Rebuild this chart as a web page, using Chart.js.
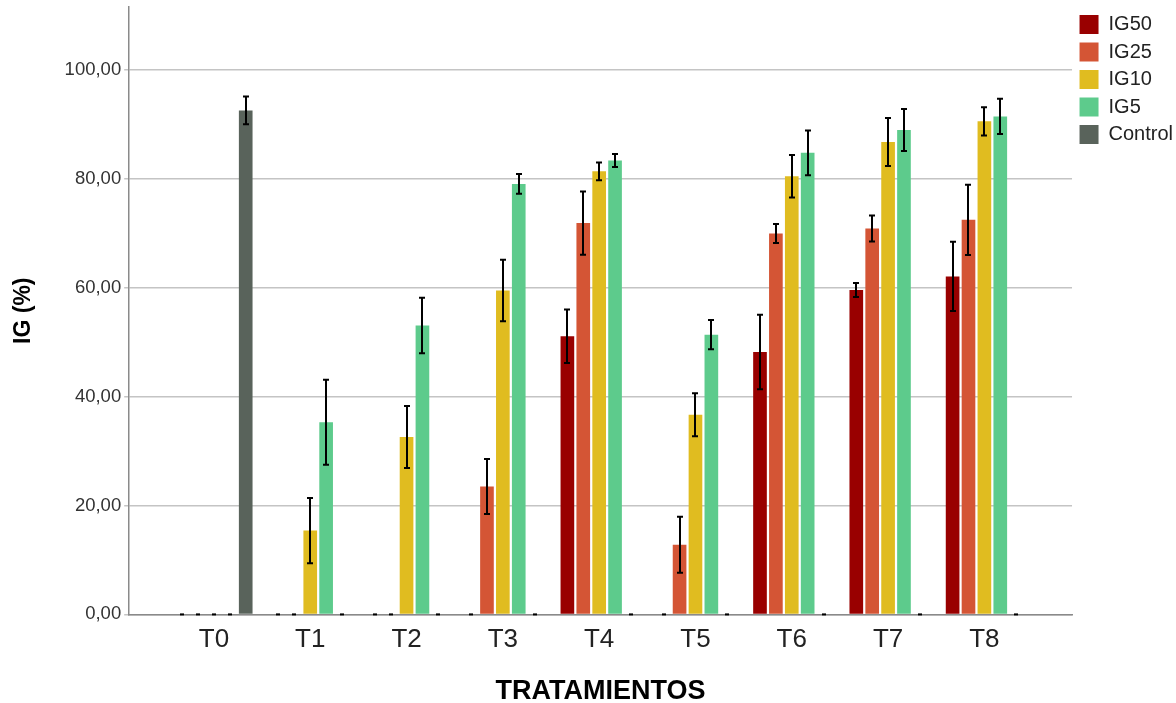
<!DOCTYPE html>
<html>
<head>
<meta charset="utf-8">
<title>IG por tratamiento</title>
<script src="https://cdn.jsdelivr.net/npm/chart.js@4.4.1/dist/chart.umd.min.js"></script>
<style>
	html, body { margin: 0; padding: 0; background: #fff; }
	#wrap { position: relative; width: 1176px; height: 703px; }
</style>
</head>
<body>
<div id="wrap"><canvas id="myChart"></canvas></div>
<script>
const categories = ['T0', 'T1', 'T2', 'T3', 'T4', 'T5', 'T6', 'T7', 'T8'];

// mean IG (%) per treatment
const ig50 = [0, 0, 0, 0, 51.1, 0, 48.2, 59.6, 62.1];
const ig25 = [0, 0, 0, 23.5, 71.9, 12.8, 70.0, 70.9, 72.5];
const ig10 = [0, 15.4, 32.6, 59.5, 81.4, 36.7, 80.5, 86.8, 90.6];
const ig5 = [0, 35.3, 53.1, 79.1, 83.4, 51.4, 84.8, 89.0, 91.5];
const control = [92.6, 0, 0, 0, 0, 0, 0, 0, 0];

// error (+/-) for each bar
const ig50Err = [0, 0, 0, 0, 4.9, 0, 6.85, 1.3, 6.35];
const ig25Err = [0, 0, 0, 5.05, 5.8, 5.15, 1.75, 2.4, 6.45];
const ig10Err = [0, 6.0, 5.7, 5.65, 1.65, 3.95, 3.9, 4.4, 2.6];
const ig5Err = [0, 7.8, 5.1, 1.8, 1.2, 2.7, 4.1, 3.85, 3.25];
const controlErr = [2.55, 0, 0, 0, 0, 0, 0, 0, 0];

const yTicks = [0, 20, 40, 60, 80, 100];

const FONT = "'Liberation Sans', Arial, sans-serif";

function toPoints(values) {
	return values.map((v, i) => ({ x: i, y: v }));
}

function makeSet(label, values, errors, color) {
	return {
		label: label,
		data: toPoints(values),
		errors: errors,
		backgroundColor: color,
		borderWidth: 0
	};
}

// draws the black error bars (and the little dash at 0 for empty slots)
const errorBars = {
	id: 'errorBars',
	afterDatasetsDraw(chart) {
		const ctx = chart.ctx;
		const yScale = chart.scales.y;
		ctx.save();
		ctx.strokeStyle = '#000';
		ctx.lineWidth = 2;
		chart.data.datasets.forEach((ds, i) => {
			const meta = chart.getDatasetMeta(i);
			if (meta.hidden) return;
			meta.data.forEach((bar, j) => {
				const v = ds.data[j].y;
				const e = ds.errors[j];
				const x = Math.round(bar.x);
				const top = yScale.getPixelForValue(v + e);
				const bot = yScale.getPixelForValue(Math.max(v - e, 0));
				ctx.beginPath();
				if (e > 0) {
					ctx.moveTo(x, top);
					ctx.lineTo(x, bot);
					ctx.moveTo(x - 3, top);
					ctx.lineTo(x + 3, top);
					ctx.moveTo(x - 3, bot);
					ctx.lineTo(x + 3, bot);
				} else {
					ctx.moveTo(x - 2, top);
					ctx.lineTo(x + 2, top);
				}
				ctx.stroke();
			});
		});
		ctx.restore();
	}
};

const ctx = document.getElementById('myChart').getContext('2d');
const myChart = new Chart(ctx, {
	type: 'bar',
	data: {
		datasets: [
			makeSet('IG50', ig50, ig50Err, '#990000'),
			makeSet('IG25', ig25, ig25Err, '#d45535'),
			makeSet('IG10', ig10, ig10Err, '#e0bc20'),
			makeSet('IG5', ig5, ig5Err, '#5dcb8c'),
			makeSet('Control', control, controlErr, '#59635b')
		]
	},
	plugins: [errorBars],
	options: {
		responsive: true,
		maintainAspectRatio: false,
		animation: false,
		categoryPercentage: 0.825,
		barPercentage: 0.86,
		layout: {
			padding: { left: 10, right: -7, top: 7, bottom: 0 }
		},
		plugins: {
			tooltip: { enabled: false },
			legend: {
				position: 'right',
				align: 'start',
				labels: {
					boxWidth: 19,
					boxHeight: 19,
					padding: 7.5,
					color: '#222',
					font: { family: FONT, size: 20 }
				}
			}
		},
		scales: {
			x: {
				type: 'linear',
				min: -0.88,
				max: 8.91,
				offset: false,
				grid: { display: false, offset: false },
				border: { display: true, color: '#8a8a8a', width: 1.5 },
				ticks: {
					stepSize: 1,
					includeBounds: false,
					autoSkip: false,
					maxRotation: 0,
					padding: 2,
					color: '#222',
					font: { family: FONT, size: 26 },
					callback: (value) => categories[value] !== undefined ? categories[value] : ''
				},
				title: {
					display: true,
					text: 'TRATAMIENTOS',
					color: '#000',
					font: { family: FONT, size: 27, weight: 'bold' },
					padding: { top: 18, bottom: -5 }
				}
			},
			y: {
				min: 0,
				max: 111.6,
				grid: {
					color: '#c4c4c4',
					lineWidth: 1.5,
					drawTicks: true,
					tickLength: 5
				},
				border: { display: true, color: '#8a8a8a', width: 1.5 },
				afterBuildTicks: (scale) => {
					scale.ticks = yTicks.map((v) => ({ value: v }));
				},
				afterFit: (scale) => {
					scale.paddingTop = 0;
				},
				ticks: {
					padding: 3,
					color: '#333',
					font: { family: FONT, size: 18.5 },
					callback: (value) => value.toFixed(2).replace('.', ',')
				},
				title: {
					display: true,
					text: 'IG (%)',
					color: '#000',
					font: { family: FONT, size: 23, weight: 'bold' },
					padding: { top: 0, bottom: 24 }
				}
			}
		}
	}
});
</script>
</body>
</html>
